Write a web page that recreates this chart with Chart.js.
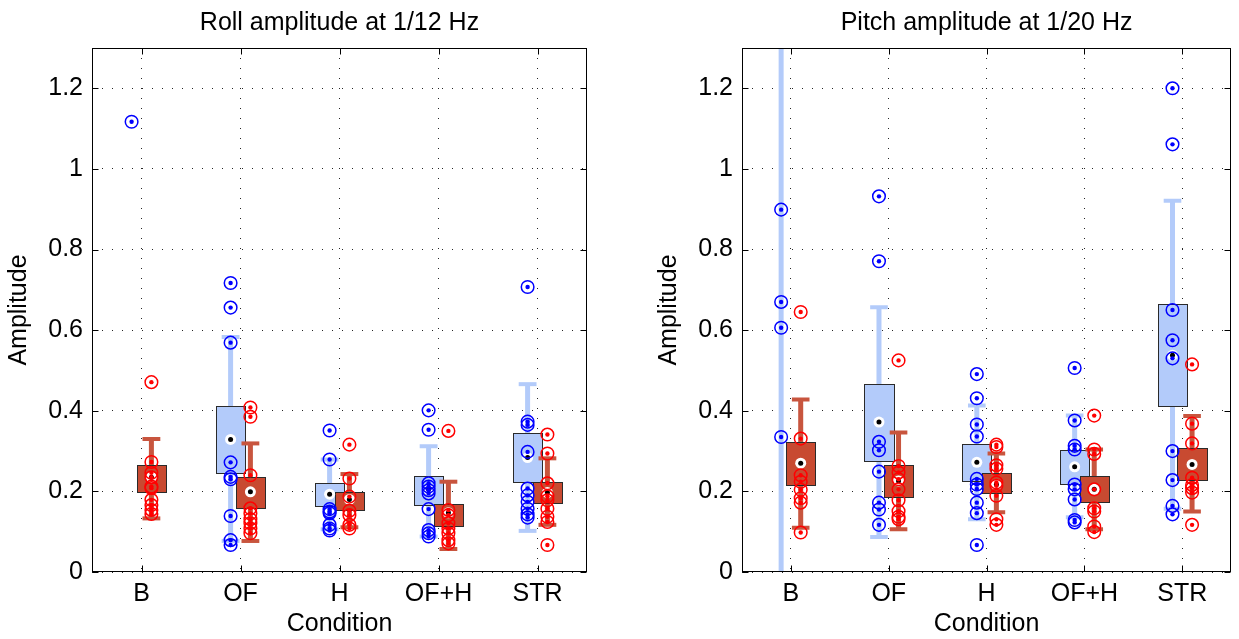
<!DOCTYPE html>
<html>
<head>
<meta charset="utf-8">
<script src="https://cdn.jsdelivr.net/npm/chart.js@4.4.1/dist/chart.umd.min.js"></script>
<style>
  body { margin: 0; background: #fff; width: 1239px; height: 639px; overflow: hidden; position: relative; }
  .panel { position: absolute; top: 0; height: 639px; }
  #p1 { left: 0; width: 620px; }
  #p2 { left: 650px; width: 589px; }
</style>
</head>
<body>
<div class="panel" id="p1"><canvas id="roll"></canvas></div>
<div class="panel" id="p2"><canvas id="pitch"></canvas></div>
<script>
// categories and axis ticks
const categories = ['B', 'OF', 'H', 'OF+H', 'STR'];
const yTicks = [0, 0.2, 0.4, 0.6, 0.8, 1, 1.2];

// Roll amplitude - blue group (box stats, null = no box)
const rollBlueQ1   = [null, 0.245, 0.164, 0.166, 0.224];
const rollBlueMed  = [null, 0.329, 0.193, 0.205, 0.284];
const rollBlueQ3   = [null, 0.412, 0.221, 0.238, 0.345];
const rollBlueLow  = [null, 0.077, 0.106, 0.088, 0.102];
const rollBlueHigh = [null, 0.583, 0.279, 0.312, 0.466];
const rollBluePts = [
  [1.117],
  [0.717, 0.656, 0.569, 0.272, 0.236, 0.230, 0.139, 0.079, 0.067],
  [0.351, 0.279, 0.156, 0.150, 0.146, 0.117, 0.108, 0.103],
  [0.401, 0.353, 0.220, 0.212, 0.203, 0.195, 0.156, 0.104, 0.096, 0.088],
  [0.707, 0.373, 0.365, 0.298, 0.207, 0.190, 0.174, 0.157, 0.143, 0.135]
];
// Roll amplitude - red group
const rollRedQ1   = [0.199, 0.158, 0.155, 0.114, 0.170];
const rollRedMed  = [0.235, 0.199, 0.180, 0.147, 0.197];
const rollRedQ3   = [0.265, 0.236, 0.198, 0.168, 0.224];
const rollRedLow  = [0.133, 0.077, 0.111, 0.057, 0.117];
const rollRedHigh = [0.330, 0.319, 0.243, 0.224, 0.282];
const rollRedPts = [
  [0.471, 0.273, 0.246, 0.235, 0.212, 0.208, 0.179, 0.166, 0.154, 0.144],
  [0.408, 0.385, 0.240, 0.158, 0.145, 0.131, 0.121, 0.108, 0.096],
  [0.316, 0.232, 0.187, 0.152, 0.141, 0.117, 0.108],
  [0.350, 0.154, 0.141, 0.121, 0.108, 0.096, 0.079, 0.071],
  [0.341, 0.294, 0.220, 0.188, 0.178, 0.157, 0.137, 0.124, 0.067]
];

// Pitch amplitude - blue group
const pitchBlueQ1   = [null, 0.276, 0.225, 0.218, 0.411];
const pitchBlueMed  = [null, 0.372, 0.272, 0.261, 0.538];
const pitchBlueQ3   = [null, 0.467, 0.318, 0.302, 0.665];
const pitchBlueLow  = [-0.1, 0.087, 0.131, 0.136, 0.157];
const pitchBlueHigh = [1.6, 0.657, 0.413, 0.388, 0.921];
const pitchBluePts = [
  [0.899, 0.670, 0.606, 0.335],
  [0.932, 0.771, 0.323, 0.302, 0.249, 0.172, 0.155, 0.117],
  [0.491, 0.431, 0.366, 0.336, 0.231, 0.217, 0.206, 0.172, 0.146, 0.067],
  [0.506, 0.376, 0.313, 0.304, 0.217, 0.205, 0.180, 0.129, 0.123],
  [1.200, 1.061, 0.650, 0.575, 0.530, 0.300, 0.228, 0.164, 0.143]
];
// Pitch amplitude - red group
const pitchRedQ1   = [0.216, 0.186, 0.197, 0.173, 0.229];
const pitchRedMed  = [0.270, 0.226, 0.217, 0.205, 0.267];
const pitchRedQ3   = [0.322, 0.266, 0.246, 0.238, 0.307];
const pitchRedLow  = [0.110, 0.106, 0.148, 0.106, 0.150];
const pitchRedHigh = [0.428, 0.346, 0.294, 0.304, 0.387];
const pitchRedPts = [
  [0.645, 0.331, 0.240, 0.224, 0.204, 0.183, 0.172, 0.098],
  [0.525, 0.263, 0.247, 0.230, 0.205, 0.178, 0.151, 0.137, 0.131],
  [0.316, 0.310, 0.265, 0.256, 0.222, 0.214, 0.189, 0.131, 0.117],
  [0.388, 0.304, 0.293, 0.205, 0.158, 0.150, 0.113, 0.099],
  [0.515, 0.368, 0.319, 0.234, 0.216, 0.208, 0.197, 0.117]
];

const FONT = 'Liberation Sans, Arial, sans-serif';
const BLUE = { offset: -0.1, point: '#0000ff', fill: '#b3cbfa', whisker: '#b3cbfa' };
const RED  = { offset: 0.1, point: '#ff0000', fill: '#c84a31', whisker: '#c8553e' };

// draws whiskers, boxes, medians, frame and title using the chart scales
const boxPlugin = {
  id: 'boxplot',
  beforeDatasetsDraw(chart) {
    const { ctx, chartArea: a, scales: { x, y } } = chart;
    const groups = chart.options.plugins.boxplot.groups;
    ctx.save();
    ctx.beginPath();
    ctx.rect(a.left, a.top, a.right - a.left, a.bottom - a.top);
    ctx.clip();
    groups.forEach(s => {
      s.q1.forEach((q1, i) => {
        const cx = i + 1 + s.style.offset;
        if (s.low[i] != null) {
          const px = x.getPixelForValue(cx);
          ctx.strokeStyle = s.style.whisker;
          ctx.lineWidth = 5;
          ctx.beginPath();
          ctx.moveTo(px, y.getPixelForValue(s.low[i]));
          ctx.lineTo(px, y.getPixelForValue(s.high[i]));
          ctx.stroke();
          ctx.lineWidth = 4;
          [s.low[i], s.high[i]].forEach(v => {
            ctx.beginPath();
            ctx.moveTo(x.getPixelForValue(cx - 0.09), y.getPixelForValue(v));
            ctx.lineTo(x.getPixelForValue(cx + 0.09), y.getPixelForValue(v));
            ctx.stroke();
          });
        }
        if (q1 != null) {
          const l = Math.round(x.getPixelForValue(cx - 0.15)) + 0.5;
          const r = Math.round(x.getPixelForValue(cx + 0.15)) + 0.5;
          const t = Math.round(y.getPixelForValue(s.q3[i])) + 0.5;
          const b = Math.round(y.getPixelForValue(q1)) + 0.5;
          ctx.fillStyle = s.style.fill;
          ctx.fillRect(l, t, r - l, b - t);
          ctx.strokeStyle = '#2a2a2a';
          ctx.lineWidth = 1;
          ctx.strokeRect(l, t, r - l, b - t);
        }
      });
    });
    groups.forEach(s => {
      s.med.forEach((m, i) => {
        if (m == null) return;
        const px = x.getPixelForValue(i + 1 + s.style.offset), py = y.getPixelForValue(m);
        ctx.fillStyle = '#fff';
        ctx.beginPath(); ctx.arc(px, py, 5.5, 0, Math.PI * 2); ctx.fill();
        ctx.fillStyle = '#000';
        ctx.beginPath(); ctx.arc(px, py, 2.5, 0, Math.PI * 2); ctx.fill();
      });
    });
    ctx.restore();
  },
  afterDraw(chart) {
    const { ctx, chartArea: a, scales: { x, y } } = chart;
    ctx.save();
    ctx.strokeStyle = '#000';
    ctx.lineWidth = 1;
    const L = Math.round(a.left) + 0.5, R = Math.round(a.right) - 0.5;
    const T = Math.round(a.top) + 0.5, B = Math.round(a.bottom) - 0.5;
    ctx.strokeRect(L, T, R - L, B - T);
    ctx.beginPath();
    yTicks.forEach(v => {
      const py = Math.round(y.getPixelForValue(v)) + 0.5;
      ctx.moveTo(L, py); ctx.lineTo(L + 6, py);
      ctx.moveTo(R, py); ctx.lineTo(R - 6, py);
    });
    categories.forEach((c, i) => {
      const px = Math.round(x.getPixelForValue(i + 1)) + 0.5;
      ctx.moveTo(px, B); ctx.lineTo(px, B - 6);
      ctx.moveTo(px, T); ctx.lineTo(px, T + 6);
    });
    ctx.stroke();
    ctx.fillStyle = '#000';
    ctx.font = '25px ' + FONT;
    ctx.textAlign = 'center';
    ctx.textBaseline = 'alphabetic';
    ctx.fillText(chart.options.plugins.boxplot.title, (a.left + a.right) / 2, 30);
    ctx.restore();
  }
};

function pointsData(pts, offset) {
  const out = [];
  pts.forEach((list, i) => list.forEach(v => out.push({ x: i + 1 + offset, y: v })));
  return out;
}

function makeChart(id, title, blue, red, rightPad) {
  const groups = [
    { style: BLUE, q1: blue.q1, med: blue.med, q3: blue.q3, low: blue.low, high: blue.high },
    { style: RED, q1: red.q1, med: red.med, q3: red.q3, low: red.low, high: red.high }
  ];
  const ds = [];
  [[red, RED], [blue, BLUE]].forEach(([g, st]) => {
    const data = pointsData(g.pts, st.offset);
    ds.push({ data: data, pointRadius: 2.2, pointBackgroundColor: st.point, pointBorderWidth: 0, showLine: false });
    ds.push({ data: data, pointRadius: 6.3, pointBackgroundColor: 'rgba(0,0,0,0)', pointBorderColor: st.point, pointBorderWidth: 1.5, showLine: false });
  });
  return new Chart(document.getElementById(id), {
    type: 'scatter',
    data: { datasets: ds },
    options: {
      responsive: true,
      maintainAspectRatio: false,
      animation: false,
      layout: { padding: { top: 48, right: rightPad, bottom: 0, left: 0 } },
      plugins: {
        legend: { display: false },
        tooltip: { enabled: false },
        boxplot: { title: title, groups: groups }
      },
      scales: {
        x: {
          type: 'linear', min: 0.5, max: 5.5,
          afterBuildTicks: s => { s.ticks = categories.map((c, i) => ({ value: i + 1 })); },
          afterFit: s => { s.height = 67; },
          ticks: { callback: v => categories[v - 1], color: '#000', font: { family: FONT, size: 25 }, padding: 7, maxRotation: 0 },
          grid: { color: 'rgba(0,0,0,0.85)', lineWidth: 1, drawTicks: false },
          border: { display: false, dash: [1, 9] },
          title: { display: true, text: 'Condition', color: '#000', font: { family: FONT, size: 25 }, padding: { top: 0, bottom: 0 } }
        },
        y: {
          type: 'linear', min: 0, max: 1.3,
          afterBuildTicks: s => { s.ticks = yTicks.map(v => ({ value: v })); },
          afterFit: s => { s.width = 92; },
          ticks: { callback: v => String(v), color: '#000', font: { family: FONT, size: 25 }, padding: 9 },
          grid: { color: 'rgba(0,0,0,0.85)', lineWidth: 1, drawTicks: false },
          border: { display: false, dash: [1, 9] },
          title: { display: true, text: 'Amplitude', color: '#000', font: { family: FONT, size: 25 }, padding: { top: 4, bottom: 0 } }
        }
      }
    },
    plugins: [boxPlugin]
  });
}

makeChart('roll', 'Roll amplitude at 1/12 Hz',
  { q1: rollBlueQ1, med: rollBlueMed, q3: rollBlueQ3, low: rollBlueLow, high: rollBlueHigh, pts: rollBluePts },
  { q1: rollRedQ1, med: rollRedMed, q3: rollRedQ3, low: rollRedLow, high: rollRedHigh, pts: rollRedPts },
  33);
makeChart('pitch', 'Pitch amplitude at 1/20 Hz',
  { q1: pitchBlueQ1, med: pitchBlueMed, q3: pitchBlueQ3, low: pitchBlueLow, high: pitchBlueHigh, pts: pitchBluePts },
  { q1: pitchRedQ1, med: pitchRedMed, q3: pitchRedQ3, low: pitchRedLow, high: pitchRedHigh, pts: pitchRedPts },
  3);
</script>
</body>
</html>
